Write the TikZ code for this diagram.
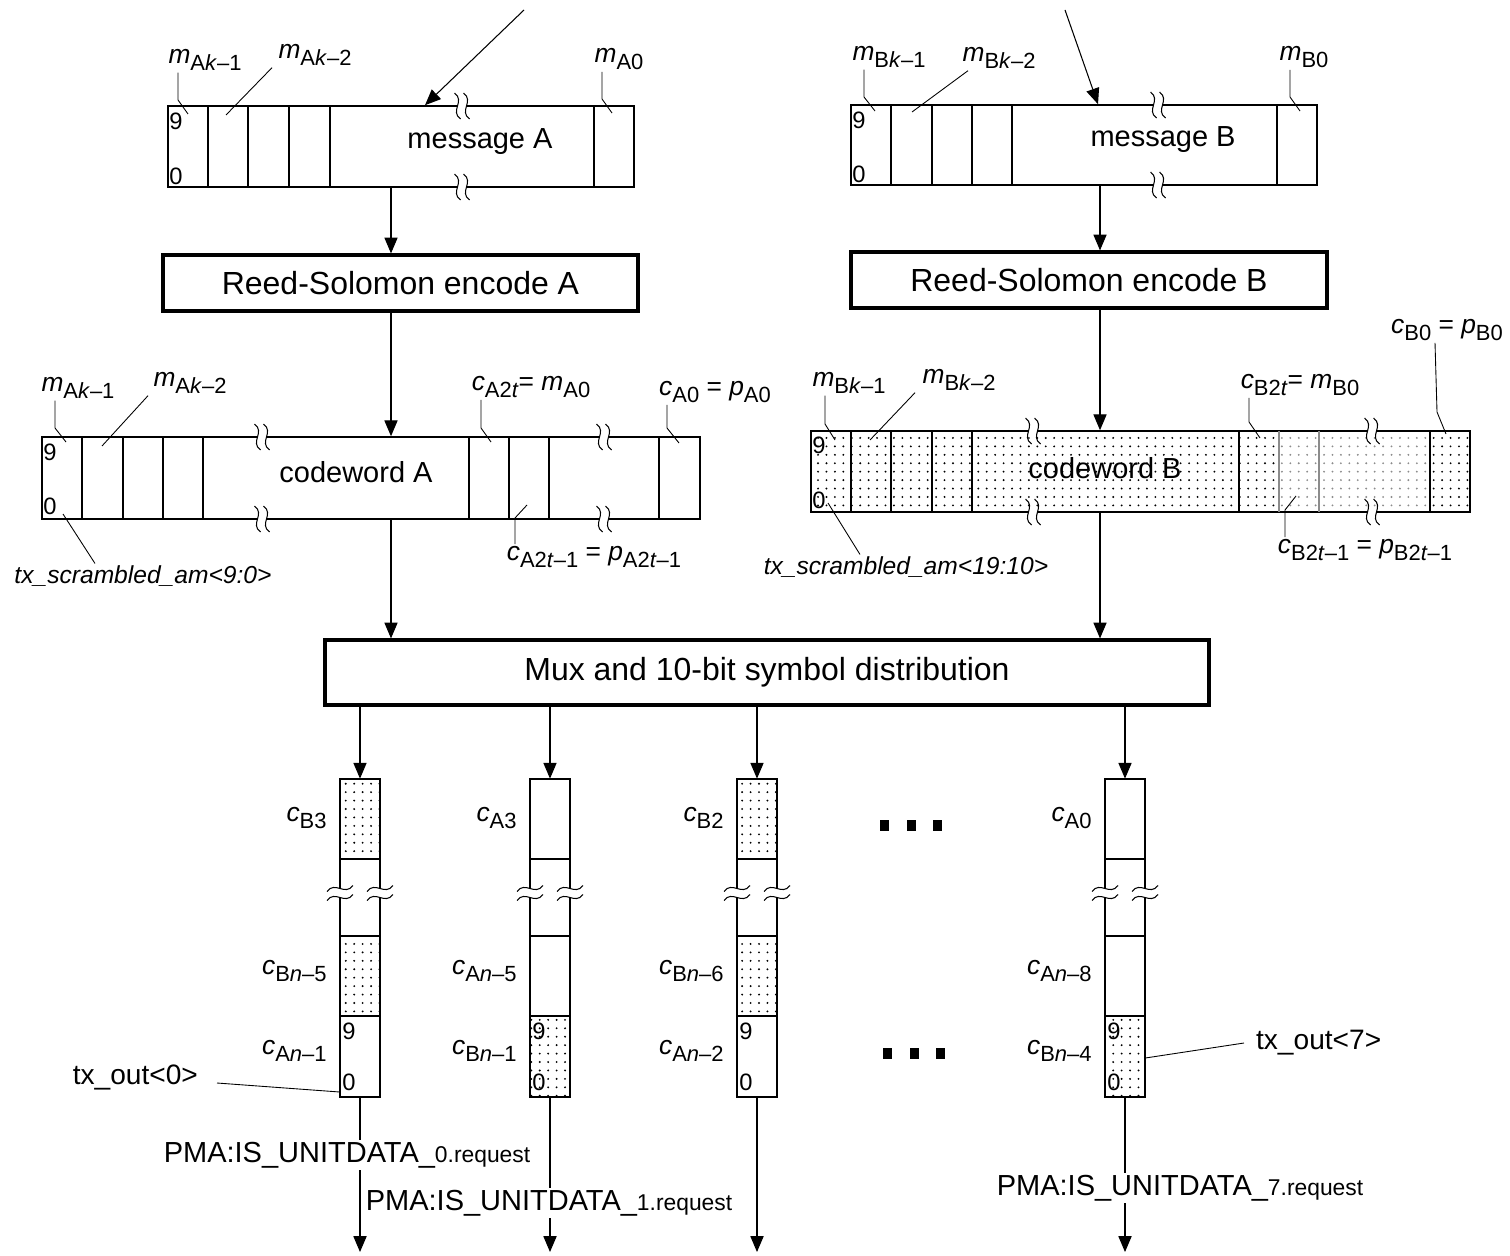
\documentclass[tikz,border=0pt]{standalone}
\usepackage{fontspec}
\setmainfont{Liberation Sans}
\usetikzlibrary{arrows.meta,patterns.meta,fit}

% symbol with lowered subscript
\newcommand{\cellsym}[2]{\textit{#1}\raisebox{-4pt}{\fontsize{12.5}{12.5}\selectfont #2}}

\begin{document}
\begin{tikzpicture}[x=0.02cm, y=-0.02cm,
    box/.style={draw, line width=0.9pt, inner sep=0pt},
    blockbox/.style={draw, line width=1.8pt, inner sep=0pt},
    area/.style={inner sep=0pt},
    arr/.style={-{Triangle[length=9pt,width=7.5pt]}, line width=0.6pt},
    lead/.style={line width=0.5pt},
    lbl/.style={font=\fontsize{15}{17}\selectfont, inner sep=1pt},
    bit/.style={font=\fontsize{13.5}{15}\selectfont, inner sep=0pt, anchor=west},
    boxtext/.style={font=\fontsize{16.5}{18}\selectfont},
    blocktext/.style={font=\fontsize{18.2}{20}\selectfont},
    sigtext/.style={font=\fontsize{16}{18}\selectfont, inner sep=1pt},
    scrtext/.style={font=\fontsize{14}{16}\selectfont\itshape, inner sep=1pt},
    pmatext/.style={fill=white, inner sep=1pt, font=\fontsize{16.5}{18}\selectfont},
    dotfill/.style={pattern={Dots[distance=4.8pt,radius=0.6pt]}},
    cut/.pic={
        \fill[white] (-5,-3) rectangle (5,3);
        \foreach \dx in {-4.5,4.5}
            \draw[line width=0.6pt] (\dx-3,-13) .. controls (\dx+8,-5) and (\dx-8,5) .. (\dx+3,13);
    }]

    % Define colours
    \definecolor{lightDots}{HTML}{8C8C8C}

    % Fix picture size
    \useasboundingbox (0,0) rectangle (1510,1256);

    % Draw message boxes
    \node[box, fit={(168,106) (634,187)}] (msgA) {};
    \node[box, fit={(851,105) (1317,185)}] (msgB) {};
    \foreach \x in {208,248,289,330,594}
        \draw[box] (\x,106) -- (\x,187);
    \foreach \x in {891,932,972,1012,1277}
        \draw[box] (\x,105) -- (\x,185);
    \pic at (462,106) {cut};
    \pic at (462,187) {cut};
    \pic at (1158,105) {cut};
    \pic at (1158,185) {cut};
    \node[boxtext] (msgAtxt) at (480,142) {message A};
    \node[boxtext] (msgBtxt) at (1163,140) {message B};

    % Draw Reed-Solomon blocks
    \node[blockbox, fit={(163,255) (638,311)}] (rsA) {};
    \node[blockbox, fit={(851,252) (1327,308)}] (rsB) {};
    \node[blocktext] (rsAtxt) at (rsA.center) {Reed-Solomon encode A};
    \node[blocktext] (rsBtxt) at (rsB.center) {Reed-Solomon encode B};

    % Draw codeword A
    \node[box, fit={(42,437) (700,519)}] (cwA) {};
    \foreach \x in {82,123,163,203,469,509,549,659}
        \draw[box] (\x,437) -- (\x,519);
    \foreach \x in {262,604} {
        \pic at (\x,437) {cut};
        \pic at (\x,519) {cut};
    }
    \node[boxtext] (cwAtxt) at (356,472) {codeword A};

    % Draw codeword B
    \fill[dotfill] (811,431) rectangle (1279,512);
    \fill[dotfill, pattern color=lightDots] (1279,431) rectangle (1430,512);
    \fill[dotfill] (1430,431) rectangle (1470,512);
    \node[box, fit={(811,431) (1470,512)}] (cwB) {};
    \foreach \x in {851,891,932,972,1239,1430}
        \draw[box] (\x,431) -- (\x,512);
    \foreach \x in {1279,1319}
        \draw[box, draw=lightDots] (\x,431) -- (\x,512);
    \foreach \x in {1033,1372} {
        \pic at (\x,431) {cut};
        \pic at (\x,512) {cut};
    }
    \node[boxtext] (cwBtxt) at (1105,468) {codeword B};

    % Bit numbers
    \foreach \n/\x/\yt/\yb in {1/169/121/176, 2/852/120/174, 3/43/452/506, 4/812/445/500} {
        \node[bit] (hi\n) at (\x,\yt) {9};
        \node[bit] (lo\n) at (\x,\yb) {0};
    }

    % Draw mux block
    \node[blockbox, fit={(325,640) (1209,705)}] (mux) {};
    \node[blocktext] (muxtxt) at (mux.center) {Mux and 10-bit symbol distribution};

    % Draw data flow arrows
    \coordinate (inA) at (524,10);
    \coordinate (hitA) at (425,0);
    \coordinate (inB) at (1065,10);
    \coordinate (hitB) at (1098,0);
    \coordinate (lineA) at (391,0);
    \coordinate (lineB) at (1100,0);
    \draw[arr] (inA) -- (msgA.north -| hitA);
    \draw[arr] (inB) -- (msgB.north -| hitB);
    \draw[arr] (msgA.south -| lineA) -- (rsA.north -| lineA);
    \draw[arr] (rsA.south -| lineA) -- (cwA.north -| lineA);
    \draw[arr] (cwA.south -| lineA) -- (mux.north -| lineA);
    \draw[arr] (msgB.south -| lineB) -- (rsB.north -| lineB);
    \draw[arr] (rsB.south -| lineB) -- (cwB.north -| lineB);
    \draw[arr] (cwB.south -| lineB) -- (mux.north -| lineB);

    % Labels above message boxes
    \node[lbl] (mAk1) at (205,60) {\cellsym{m}{A\textit{k}--1}};
    \node[lbl] (mAk2) at (315,55) {\cellsym{m}{A\textit{k}--2}};
    \node[lbl] (mA0) at (619,59) {\cellsym{m}{A0}};
    \node[lbl] (mBk1) at (889,57) {\cellsym{m}{B\textit{k}--1}};
    \node[lbl] (mBk2) at (999,58) {\cellsym{m}{B\textit{k}--2}};
    \node[lbl] (mB0) at (1304,57) {\cellsym{m}{B0}};
    \draw[lead] (mAk1.south -| 178,0) -- (178,100) -- (188,114);
    \draw[lead] (mAk2.south -| 272,0) -- (226,115);
    \draw[lead] (mA0.south -| 602,0) -- (602,99) -- (612,113);
    \draw[lead] (mBk1.south -| 864,0) -- (864,97) -- (875,111);
    \draw[lead] (mBk2.south -| 968,0) -- (912,112);
    \draw[lead] (mB0.south -| 1290,0) -- (1290,97) -- (1300,111);

    % Labels round codeword A
    \node[lbl] (cmAk1) at (78,388) {\cellsym{m}{A\textit{k}--1}};
    \node[lbl] (cmAk2) at (190,383) {\cellsym{m}{A\textit{k}--2}};
    \node[lbl] (cA2t) at (531,387) {\cellsym{c}{A2\textit{t}}= \cellsym{m}{A0}};
    \node[lbl] (cA0) at (715,392) {\cellsym{c}{A0} = \cellsym{p}{A0}};
    \node[lbl] (cA2t1) at (594,557) {\cellsym{c}{A2\textit{t}--1} = \cellsym{p}{A2\textit{t}--1}};
    \node[scrtext] (scrA) at (143,576) {tx\_scrambled\_am<9:0>};
    \draw[lead] (cmAk1.south -| 55,0) -- (55,428) -- (66,442);
    \draw[lead] (cmAk2.south -| 148,0) -- (102,446);
    \draw[lead] (cA2t.south -| 481,0) -- (481,428) -- (491,442);
    \draw[lead] (cA0.south -| 667,0) -- (667,428) -- (679,443);
    \draw[lead] (cA2t1.north -| 515,0) -- (515,518) -- (527,505);
    \draw[lead] (scrA.north -| 95,0) -- (63,514);

    % Labels round codeword B
    \node[lbl] (cmBk1) at (849,383) {\cellsym{m}{B\textit{k}--1}};
    \node[lbl] (cmBk2) at (959,380) {\cellsym{m}{B\textit{k}--2}};
    \node[lbl] (cB2t) at (1300,385) {\cellsym{c}{B2\textit{t}}= \cellsym{m}{B0}};
    \node[lbl] (cB0) at (1447,330) {\cellsym{c}{B0} = \cellsym{p}{B0}};
    \node[lbl] (cB2t1) at (1365,550) {\cellsym{c}{B2\textit{t}--1} = \cellsym{p}{B2\textit{t}--1}};
    \node[scrtext] (scrB) at (906,567) {tx\_scrambled\_am<19:10>};
    \draw[lead] (cmBk1.south -| 825,0) -- (825,424) -- (835,440);
    \draw[lead] (cmBk2.south -| 915,0) -- (870,440);
    \draw[lead] (cB2t.south -| 1249,0) -- (1249,422) -- (1260,438);
    \draw[lead] (cB0.south -| 1435,0) -- (1437,412) -- (1446,434);
    \draw[lead] (cB2t1.north -| 1285,0) -- (1285,510) -- (1296,496);
    \draw[lead] (scrB.north -| 860,0) -- (828,503);

    % Draw output columns
    \foreach \n/\cx/\topB in {1/340/1, 2/530/0, 3/737/1, 4/1105/0} {
        \ifnum\topB=1
            \fill[dotfill] (\cx,779) rectangle (\cx+40,859);
            \fill[dotfill] (\cx,936) rectangle (\cx+40,1016);
        \else
            \fill[dotfill] (\cx,1016) rectangle (\cx+40,1097);
        \fi
        \draw[box] (\cx,779) rectangle (\cx+40,1097);
        \foreach \y in {859,936,1016}
            \draw[box] (\cx,\y) -- (\cx+40,\y);
        \pic[rotate=90] at (\cx,893) {cut};
        \pic[rotate=90] at (\cx+40,893) {cut};
        \node[bit] (nine\n) at (\cx+2,1031) {9};
        \node[bit] (zero\n) at (\cx+2,1082) {0};
        \node[area, fit={(\cx,779) (\cx+40,1097)}] (col\n) {};
    }

    % Label column cells
    \foreach \n/\la/\lb/\lc in {1/B3/B\textit{n}--5/A\textit{n}--1, 2/A3/A\textit{n}--5/B\textit{n}--1,
                                3/B2/B\textit{n}--6/A\textit{n}--2, 4/A0/A\textit{n}--8/B\textit{n}--4} {
        \node[lbl, anchor=east, xshift=-0.22cm] (ctop\n) at (col\n.west |- 0,818) {\cellsym{c}{\la}};
        \node[lbl, anchor=east, xshift=-0.22cm] (cmid\n) at (col\n.west |- 0,971) {\cellsym{c}{\lb}};
        \node[lbl, anchor=east, xshift=-0.22cm] (cbot\n) at (col\n.west |- 0,1051) {\cellsym{c}{\lc}};
    }

    % Draw column arrows
    \coordinate (bottom) at (0,1252);
    \foreach \n in {1,...,4} {
        \draw[arr] (mux.south -| col\n) -- (col\n.north);
        \draw[arr] (col\n.south) -- (col\n.south |- bottom);
    }

    % Draw ellipsis marks
    \foreach \x in {880,907,933}
        \fill (\x,820) rectangle +(9,11);
    \foreach \x in {883,910,936}
        \fill (\x,1048) rectangle +(9,11);

    % Output signals
    \node[sigtext, anchor=east] (txo0) at (200,1077) {tx\_out<0>};
    \node[sigtext, anchor=west] (txo7) at (1254,1043) {tx\_out<7>};
    \draw[lead] (txo0.east) ++(17,6) -- (col1.west |- 0,1092);
    \draw[lead] (col4.east |- 0,1058) -- ([xshift=-0.2cm]txo7.west);

    % Service primitives
    \node[pmatext] (pma0) at (347,1155) {PMA:IS\_UNITDATA\_{\fontsize{13}{15}\selectfont 0.request}};
    \node[pmatext] (pma1) at (549,1203) {PMA:IS\_UNITDATA\_{\fontsize{13}{15}\selectfont 1.request}};
    \node[pmatext] (pma7) at (1180,1188) {PMA:IS\_UNITDATA\_{\fontsize{13}{15}\selectfont 7.request}};

\end{tikzpicture}
\end{document}
